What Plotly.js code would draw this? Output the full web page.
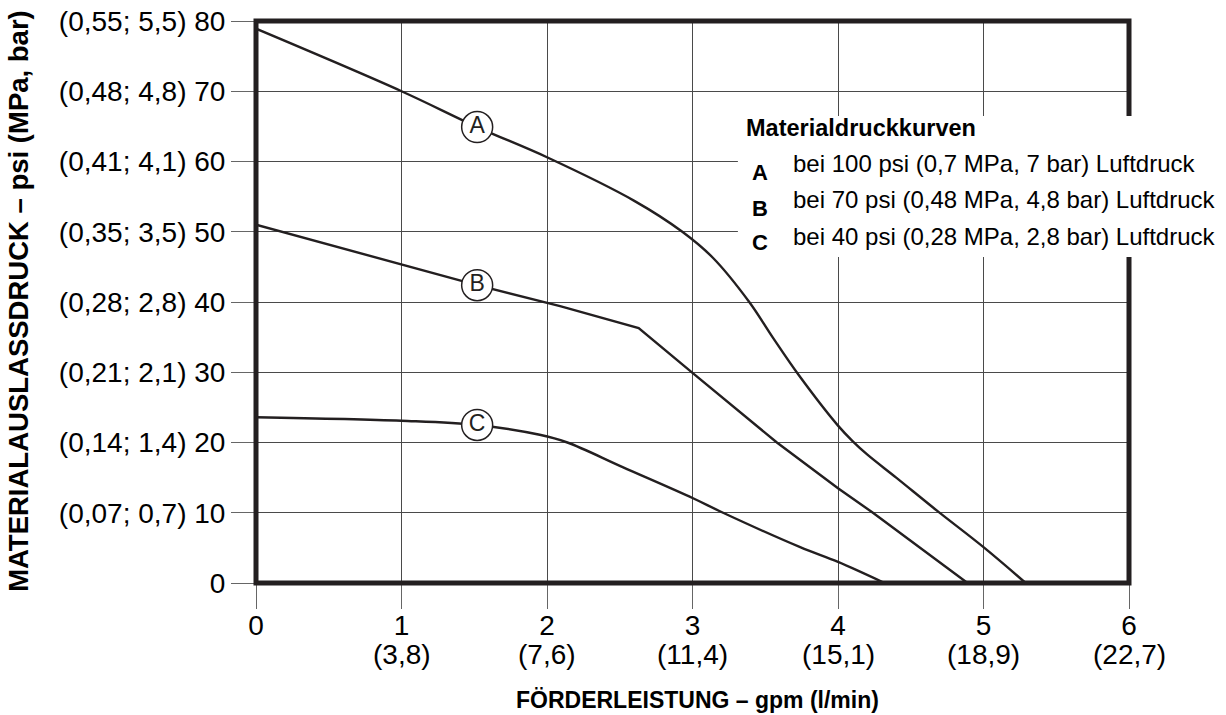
<!DOCTYPE html>
<html>
<head>
<meta charset="utf-8">
<script src="https://cdn.plot.ly/plotly-3.0.1.min.js"></script>
<style>html,body{margin:0;padding:0;background:#fff;}#chart{width:1226px;height:715px;}</style>
</head>
<body>
<div id="chart"></div>
<script>
// Curve A – 100 psi air pressure
const aX = [0, 1, 1.52, 2, 2.6, 2.93, 3.14, 3.39, 3.55, 3.73, 4.0, 4.1, 4.2, 4.4, 4.68, 5.0, 5.29];
const aY = [78.9, 70.0, 64.9, 60.6, 54.4, 50.0, 46.3, 40.0, 35.0, 29.6, 22.4, 20.2, 18.3, 15.0, 10.3, 5.1, 0];
// Curve B – 70 psi air pressure
const bX = [0, 1, 1.52, 2.09, 2.63, 3.0, 3.58, 4.0, 4.24, 4.89];
const bY = [51.0, 45.4, 42.4, 39.4, 36.3, 29.9, 20.0, 13.5, 10.0, 0];
// Curve C – 40 psi air pressure
const cX = [0, 1, 1.52, 1.95, 2.14, 2.52, 3.0, 3.21, 3.74, 4.0, 4.32];
const cY = [23.6, 23.1, 22.5, 21.1, 20.0, 16.5, 12.1, 10.0, 5.1, 3.0, 0];
// Circle labels on the curves
const labelNames = ['A', 'B', 'C'];
const labelX = [1.52, 1.52, 1.52];
const labelY = [64.9, 42.4, 22.5];
// Tick labels
const xTickVals = [0, 1, 2, 3, 4, 5, 6];
const xTickText = ['0', '1', '2', '3', '4', '5', '6'];
const xTickText2 = ['', '(3,8)', '(7,6)', '(11,4)', '(15,1)', '(18,9)', '(22,7)'];
const yTickVals = [0, 10, 20, 30, 40, 50, 60, 70, 80];
const yTickText = ['0', '(0,07; 0,7) 10', '(0,14; 1,4) 20', '(0,21; 2,1) 30', '(0,28; 2,8) 40',
                   '(0,35; 3,5) 50', '(0,41; 4,1) 60', '(0,48; 4,8) 70', '(0,55; 5,5) 80'];
// Legend texts
const legendTitle = 'Materialdruckkurven';
const legendLetters = ['A', 'B', 'C'];
const legendTexts = ['bei 100 psi (0,7 MPa, 7 bar) Luftdruck',
                     'bei 70 psi (0,48 MPa, 4,8 bar) Luftdruck',
                     'bei 40 psi (0,28 MPa, 2,8 bar) Luftdruck'];

const FONT = 'Liberation Sans, Arial, Helvetica, sans-serif';
const INK = '#231f20';

const lineStyle = {color: INK, width: 2.4};
const traces = [
  {x: aX, y: aY, mode: 'lines', line: Object.assign({shape: 'spline', smoothing: 1.0}, lineStyle), hoverinfo: 'skip'},
  {x: bX, y: bY, mode: 'lines', line: Object.assign({shape: 'linear'}, lineStyle), hoverinfo: 'skip'},
  {x: cX, y: cY, mode: 'lines', line: Object.assign({shape: 'spline', smoothing: 1.0}, lineStyle), hoverinfo: 'skip'},
  {x: labelX, y: labelY, mode: 'markers+text', text: labelNames, textposition: 'middle center',
   textfont: {family: FONT, size: 23, color: INK},
   marker: {size: 31, color: '#ffffff', line: {color: INK, width: 1.5}}, hoverinfo: 'skip'}
];

const annotations = [
  {text: '<b>' + legendTitle + '</b>', xref: 'paper', yref: 'paper', x: 0.559, y: 0.810,
   xanchor: 'left', yanchor: 'middle', showarrow: false, font: {family: FONT, size: 23.5, color: '#000'}}
];
const letterY = [0.7313, 0.667, 0.605];
const textY = [0.7456, 0.6815, 0.6157];
for (let i = 0; i < legendLetters.length; i++) {
  annotations.push({text: '<b>' + legendLetters[i] + '</b>', xref: 'paper', yref: 'paper', x: 0.5773, y: letterY[i],
    xanchor: 'center', yanchor: 'middle', showarrow: false, font: {family: FONT, size: 22, color: '#000'}});
  annotations.push({text: legendTexts[i], xref: 'paper', yref: 'paper', x: 0.6125, y: textY[i],
    xanchor: 'left', yanchor: 'middle', showarrow: false, font: {family: FONT, size: 24, color: '#000'}});
}
// second line of the x tick labels (litres per minute)
for (let i = 0; i < xTickVals.length; i++) {
  if (!xTickText2[i]) continue;
  annotations.push({text: xTickText2[i], xref: 'x', yref: 'paper', x: xTickVals[i], y: -0.128,
    xanchor: 'center', yanchor: 'middle', showarrow: false, font: {family: FONT, size: 28, color: '#000'}});
}
annotations.push({text: '<b>FÖRDERLEISTUNG – gpm (l/min)</b>', xref: 'paper', yref: 'paper', x: 0.506, y: -0.208,
  xanchor: 'center', yanchor: 'middle', showarrow: false, font: {family: FONT, size: 23, color: '#000'}});
annotations.push({text: '<b>MATERIALAUSLASSDRUCK – psi (MPa, bar)</b>', xref: 'paper', yref: 'paper', x: -0.2715, y: 0.502,
  xanchor: 'center', yanchor: 'middle', textangle: -90, showarrow: false, font: {family: FONT, size: 27.5, color: '#000'}});

const layout = {
  width: 1226, height: 715,
  margin: {l: 256, r: 97, t: 21, b: 132},
  paper_bgcolor: '#ffffff', plot_bgcolor: '#ffffff',
  showlegend: false,
  font: {family: FONT, color: '#000'},
  xaxis: {range: [0, 6], autorange: false, tickvals: xTickVals, ticktext: xTickText,
    ticks: 'outside', ticklen: 25, tickcolor: '#666', tickwidth: 1, ticklabelstandoff: -8,
    showgrid: true, gridcolor: '#4a4a4a', gridwidth: 1, zeroline: false, showline: false,
    tickfont: {family: FONT, size: 28, color: '#000'}, fixedrange: true},
  yaxis: {range: [0, 80], autorange: false, tickvals: yTickVals, ticktext: yTickText,
    ticks: 'outside', ticklen: 24, tickcolor: '#666', tickwidth: 1,
    showgrid: true, gridcolor: '#4a4a4a', gridwidth: 1, zeroline: false, showline: false,
    tickfont: {family: FONT, size: 28, color: '#000'}, fixedrange: true},
  shapes: [
    {type: 'rect', xref: 'paper', yref: 'paper', x0: 0, x1: 1, y0: 0, y1: 1,
     line: {color: INK, width: 5}, fillcolor: 'rgba(0,0,0,0)', layer: 'above'},
    {type: 'rect', xref: 'paper', yref: 'paper', x0: 0.552, x1: 1.12, y0: 0.580, y1: 0.831,
     line: {width: 0}, fillcolor: '#ffffff', layer: 'above'}
  ],
  annotations: annotations
};

Plotly.newPlot('chart', traces, layout, {staticPlot: true, displayModeBar: false});
</script>
</body>
</html>
